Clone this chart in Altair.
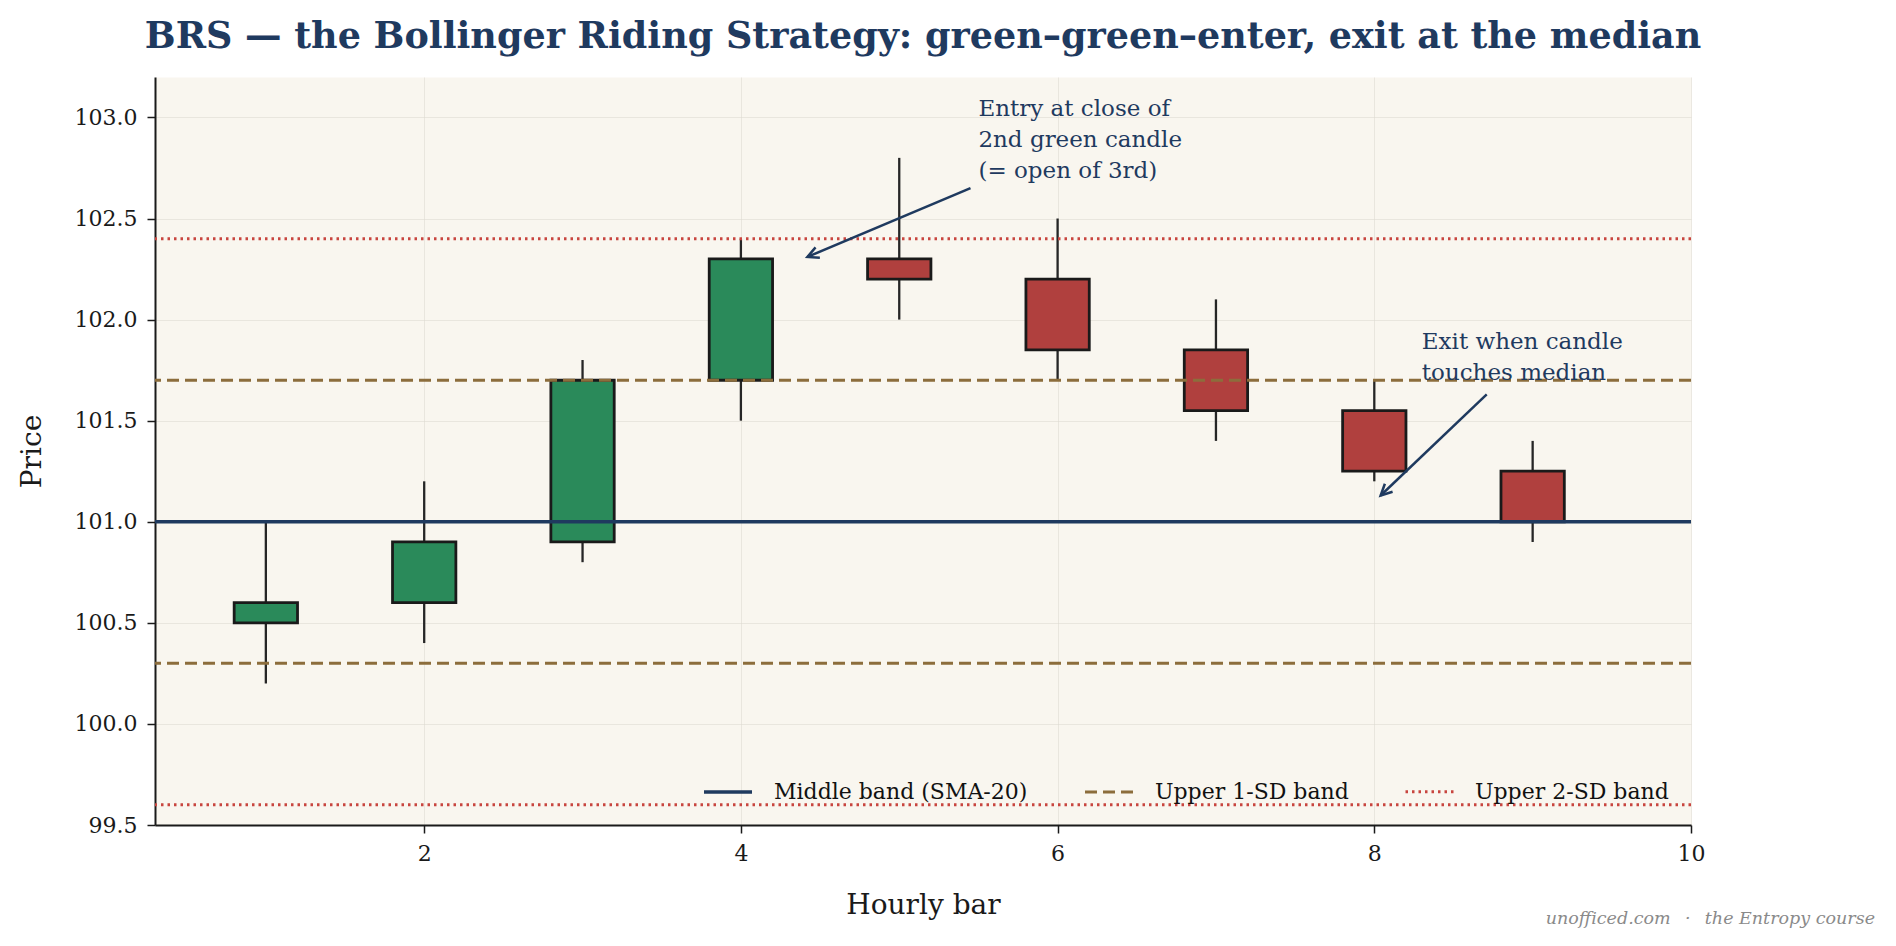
import math
import altair as alt
import pandas as pd

# ---------------- data ----------------
bars = [1, 2, 3, 4, 5, 6, 7, 8, 9]
opens = [100.5, 100.6, 100.9, 101.7, 102.3, 102.2, 101.85, 101.55, 101.25]
closes = [100.6, 100.9, 101.7, 102.3, 102.2, 101.85, 101.55, 101.25, 101.0]
highs = [101.0, 101.2, 101.8, 102.4, 102.8, 102.5, 102.1, 101.7, 101.4]
lows = [100.2, 100.4, 100.8, 101.5, 102.0, 101.7, 101.4, 101.2, 100.9]

band_names = ["Middle band (SMA-20)", "Upper 1-SD band", "Upper 1-SD band",
              "Upper 2-SD band", "Upper 2-SD band"]
band_levels = [101.0, 101.7, 100.3, 102.4, 99.6]
band_order = ["Middle band (SMA-20)", "Upper 1-SD band", "Upper 2-SD band"]

x_ticks = [2, 4, 6, 8, 10]
y_ticks = [99.5, 100.0, 100.5, 101.0, 101.5, 102.0, 102.5, 103.0]
x_domain = [0.3, 10]
y_domain = [99.5, 103.2]

note_lines = [["Entry at close of", "2nd green candle", "(= open of 3rd)"],
              ["Exit when candle", "touches median"]]
note_x = [5.5, 8.3]
note_y = [102.7, 101.7]          # baseline of the last line
arrow_from_x = [5.45, 8.71]
arrow_from_y = [102.65, 101.63]
arrow_to_x = [4.42, 8.04]
arrow_to_y = [102.31, 101.13]

title_text = "BRS \u2014 the Bollinger Riding Strategy: green\u2013green\u2013enter, exit at the median"
footer_text = "unofficed.com \u2002\u00b7\u2002 the Entropy course"

# ---------------- style ----------------
W, H = 1536, 748
FONT = "DejaVu Serif"
NAVY = "#1F3A5F"
GREEN = "#2A8A5A"
RED = "#B0403E"
BROWN = "#8C6D3C"
DOTRED = "#C8453F"
HALF = 0.2
NOTE_LH = 31

sx = W / (x_domain[1] - x_domain[0])
sy = H / (y_domain[1] - y_domain[0])

candles = pd.DataFrame({
    "bar": bars, "open": opens, "close": closes, "high": highs, "low": lows,
})
candles["x0"] = candles["bar"] - HALF
candles["x1"] = candles["bar"] + HALF
candles["dir"] = ["up" if c >= o else "down" for o, c in zip(opens, closes)]

bands = pd.DataFrame({"band": band_names, "level": band_levels})

notes = pd.DataFrame({
    "x": note_x,
    "y": [y + (len(l) - 1) * NOTE_LH / sy for y, l in zip(note_y, note_lines)],
    "t": ["\n".join(l) for l in note_lines],
})

arrows = pd.DataFrame({"x": arrow_from_x, "y": arrow_from_y,
                       "x2": arrow_to_x, "y2": arrow_to_y})
arrows["angle"] = [
    math.degrees(math.atan2((x2 - x1) * sx, (y2 - y1) * sy)) % 360
    for x1, y1, x2, y2 in zip(arrow_from_x, arrow_from_y, arrow_to_x, arrow_to_y)
]

xs = alt.Scale(domain=x_domain, nice=False, zero=False)
ys = alt.Scale(domain=y_domain, nice=False, zero=False)

x_axis = alt.Axis(values=x_ticks, title="Hourly bar", format="d", labelFlush=False,
                  titleY=88, titleBaseline="alphabetic")
y_axis = alt.Axis(values=y_ticks, title="Price", format=".1f", labelFlush=False,
                  titleX=-123, titleY=H / 2, titleAngle=270,
                  titleBaseline="middle", titleAlign="center")

base = alt.Chart(candles)

wicks = base.mark_rule(color="#262626", strokeWidth=2.3).encode(
    x=alt.X("bar:Q", scale=xs, axis=x_axis),
    y=alt.Y("low:Q", scale=ys, axis=y_axis),
    y2="high:Q",
)

bodies = base.mark_rect(stroke="#1a1a1a", strokeWidth=2.8).encode(
    x=alt.X("x0:Q", scale=xs),
    x2="x1:Q",
    y=alt.Y("open:Q", scale=ys),
    y2="close:Q",
    fill=alt.Fill("dir:N", scale=alt.Scale(domain=["up", "down"], range=[GREEN, RED]),
                  legend=None),
)

band_rules = alt.Chart(bands).mark_rule().encode(
    y=alt.Y("level:Q", scale=ys),
    color=alt.Color("band:N", scale=alt.Scale(domain=band_order, range=[NAVY, BROWN, DOTRED]),
                    title=None,
                    legend=alt.Legend(orient="bottom-right", direction="horizontal",
                                      offset=22, symbolType="stroke", symbolSize=2304,
                                      labelFont=FONT, labelLimit=500,
                                      labelFontSize=22, labelColor="#111111",
                                      labelOffset=20, columnPadding=50, padding=0)),
    strokeDash=alt.StrokeDash("band:N", scale=alt.Scale(domain=band_order,
                                                        range=[[1, 0], [12, 6], [2.5, 4]]),
                              title=None),
    strokeWidth=alt.StrokeWidth("band:N", scale=alt.Scale(domain=band_order,
                                                          range=[3.4, 3.0, 2.4]),
                                title=None),
)

arrow_lines = alt.Chart(arrows).mark_rule(color=NAVY, strokeWidth=2.5).encode(
    x=alt.X("x:Q", scale=xs), y=alt.Y("y:Q", scale=ys), x2="x2:Q", y2="y2:Q",
)
arrow_heads = alt.Chart(arrows).mark_point(
    shape="M -0.5 1 L 0 0 L 0.5 1", filled=False, stroke=NAVY, strokeWidth=2.5,
    size=500, opacity=1,
).encode(
    x=alt.X("x2:Q", scale=xs), y=alt.Y("y2:Q", scale=ys),
    angle=alt.Angle("angle:Q", scale=None),
)

note_text = alt.Chart(notes).mark_text(
    font=FONT, fontSize=23, color=NAVY, align="left", baseline="alphabetic",
    lineBreak="\n", lineHeight=NOTE_LH,
).encode(x=alt.X("x:Q", scale=xs), y=alt.Y("y:Q", scale=ys), text="t:N")

title = alt.Chart(pd.DataFrame({"t": [title_text]})).mark_text(
    font=FONT, fontSize=36.5, fontWeight="bold", color=NAVY,
    align="center", baseline="alphabetic",
).encode(x=alt.value(W / 2), y=alt.value(-29), text="t:N")

footer = alt.Chart(pd.DataFrame({"t": [footer_text]})).mark_text(
    font=FONT, fontSize=17.5, fontStyle="italic", color="#8a8a8a",
    align="right", baseline="middle",
).encode(x=alt.value(1720), y=alt.value(842), text="t:N")

chart = alt.layer(wicks, bodies, band_rules, arrow_lines, arrow_heads, note_text,
                  title, footer).properties(
    width=W, height=H,
    autosize=alt.AutoSizeParams(type="none"),
    padding={"left": 155, "top": 77, "right": 205, "bottom": 121},
).configure(background="white").configure_view(
    fill="#F9F6EF", stroke="transparent",
).configure_axis(
    labelFont=FONT, labelFontSize=22, labelColor="#1a1a1a",
    titleFont=FONT, titleFontSize=28, titleFontWeight="normal", titleColor="#1a1a1a",
    domainColor="#1a1a1a", domainWidth=2, tickColor="#1a1a1a", tickWidth=1.5,
    tickSize=8, labelPadding=10,
    gridColor="#dcd8d0", gridOpacity=0.55, gridWidth=1, zindex=1,
)

chart.save("out.html", embed_options={"renderer": "svg", "actions": False})
